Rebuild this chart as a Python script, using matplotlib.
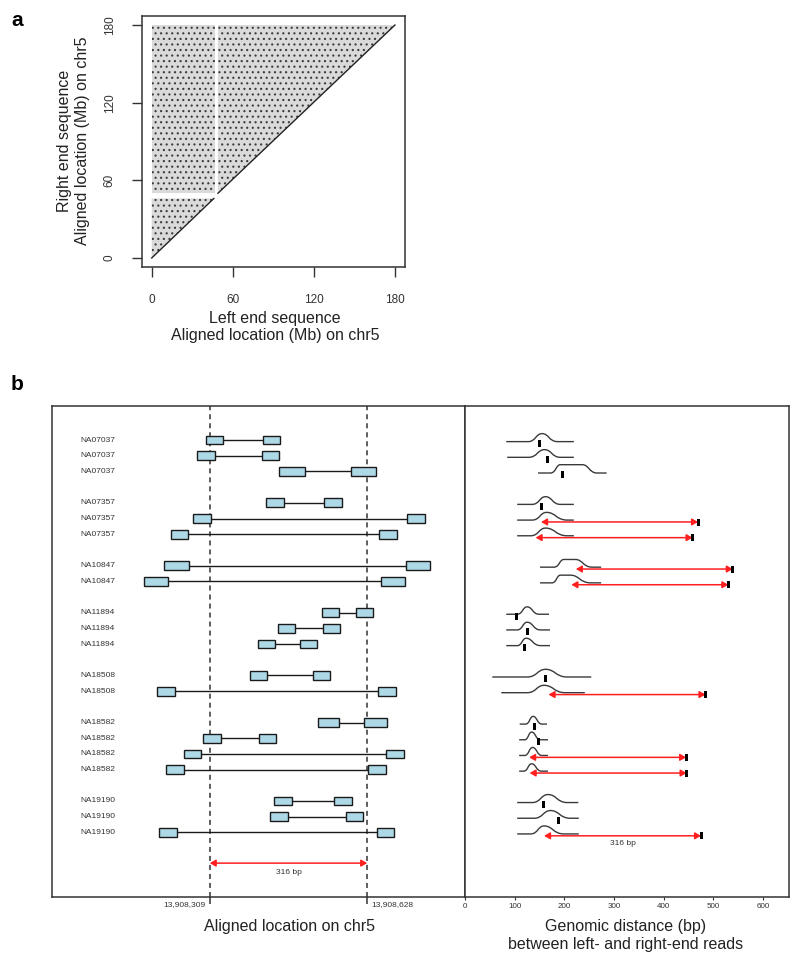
import matplotlib
matplotlib.use("Agg")
import matplotlib.pyplot as plt
from matplotlib.path import Path
from matplotlib.patches import PathPatch
from matplotlib.transforms import blended_transform_factory

plt.rcParams["font.family"] = ["Liberation Sans", "DejaVu Sans"]
plt.rcParams["hatch.linewidth"] = 0.8

# ─────────────────────────────────────────────
# Panel a : outline of the read-pair cloud (Mb on chr5)
# ─────────────────────────────────────────────
UPPER_LEFT_X = [0, 46.5, 46.5, 0]
UPPER_LEFT_Y = [50, 50, 180, 180]
LOWER_LEFT_X = [0, 46, 0]
LOWER_LEFT_Y = [0, 46, 46]
RIGHT_X = [49, 180, 49]
RIGHT_Y = [50, 180, 180]
A_TICKS = [0, 60, 120, 180]

# ─────────────────────────────────────────────
# Panel b : read pairs around the deletion
# ─────────────────────────────────────────────
LEFT_BREAK = 13908309
RIGHT_BREAK = 13908628
DELETION_BP = 316

SAMPLES = (["NA07037"] * 3 + ["NA07357"] * 3 + ["NA10847"] * 2 + ["NA11894"] * 3
           + ["NA18508"] * 2 + ["NA18582"] * 4 + ["NA19190"] * 3)
ROWS = [0, 1, 2, 4, 5, 6, 8, 9, 11, 12, 13, 15, 16, 18, 19, 20, 21, 23, 24, 25]

LEFT_READ_START = [13908301, 13908284, 13908449, 13908424, 13908275, 13908230,
                   13908217, 13908175, 13908536, 13908447, 13908407, 13908391,
                   13908202, 13908528, 13908295, 13908257, 13908221, 13908439,
                   13908432, 13908207]
LEFT_READ_END = [13908336, 13908320, 13908502, 13908460, 13908311, 13908266,
                 13908268, 13908225, 13908570, 13908482, 13908441, 13908426,
                 13908239, 13908571, 13908331, 13908292, 13908256, 13908475,
                 13908468, 13908242]
RIGHT_READ_START = [13908417, 13908415, 13908596, 13908541, 13908708, 13908652,
                    13908706, 13908656, 13908606, 13908539, 13908492, 13908518,
                    13908650, 13908621, 13908409, 13908667, 13908630, 13908561,
                    13908584, 13908647]
RIGHT_READ_END = [13908451, 13908450, 13908646, 13908577, 13908744, 13908688,
                  13908756, 13908705, 13908640, 13908573, 13908526, 13908553,
                  13908686, 13908668, 13908443, 13908702, 13908667, 13908597,
                  13908620, 13908682]
HAS_DELETION = [False, False, False, False, True, True, True, True, False, False,
                False, False, True, False, False, True, True, False, False, True]

# insert-size distribution per library (bp)
CURVE_START = [83, 85, 147, 105, 105, 105, 151, 151, 83, 83, 83, 55, 73, 110, 109, 109, 109, 105, 105, 105]
CURVE_RISE = [127, 128, 172, 135, 135, 132, 179, 175, 105, 105, 105, 125, 125, 122, 120, 120, 118, 135, 139, 132]
CURVE_PEAK_LO = [155, 160, 192, 162, 164, 162, 199, 192, 125, 125, 123, 162, 159, 137, 134, 136, 134, 167, 172, 159]
CURVE_PEAK_HI = [155, 160, 236, 162, 164, 162, 222, 212, 125, 125, 123, 162, 159, 137, 134, 136, 134, 167, 172, 159]
CURVE_FALL = [186, 192, 266, 192, 206, 206, 256, 253, 149, 152, 152, 206, 202, 155, 152, 155, 154, 206, 212, 199]
CURVE_END = [219, 219, 285, 219, 219, 219, 274, 274, 169, 171, 171, 254, 241, 165, 167, 167, 167, 228, 229, 229]
CURVE_HEIGHT = [0.51, 0.49, 0.53, 0.49, 0.49, 0.49, 0.49, 0.49, 0.47, 0.49,
                0.47, 0.49, 0.47, 0.49, 0.49, 0.51, 0.47, 0.51, 0.49, 0.51]

R_TICKS = [0, 100, 200, 300, 400, 500, 600]

W, H = 800, 961
DARK = "#333333"
RED = "#ff1f1f"


def fx(x):
    return x / W


def fy(y):
    return 1 - y / H


def bump_path(x0, x1, p0, p1, x2, x3, base, h):
    # smooth bump drawn with cubic Bezier segments
    top = base - h
    d1 = p0 - x1
    d2 = x2 - p1
    verts = [(x0, base), (x1, base),
             (x1 + 0.55 * d1, base), (p0 - 0.45 * d1, top), (p0, top),
             (p1, top),
             (p1 + 0.45 * d2, top), (x2 - 0.55 * d2, base), (x2, base),
             (x3, base)]
    codes = [Path.MOVETO, Path.LINETO,
             Path.CURVE4, Path.CURVE4, Path.CURVE4,
             Path.LINETO,
             Path.CURVE4, Path.CURVE4, Path.CURVE4,
             Path.LINETO]
    return Path(verts, codes)


fig = plt.figure(figsize=(8, 9.61), dpi=100)

# ─────────────────────────────────────────────
# Panel a
# ─────────────────────────────────────────────
ax_a = fig.add_axes([fx(142), fy(267.3), (404.7 - 142) / W, (267.3 - 15.7) / H])
for xs, ys in [(UPPER_LEFT_X, UPPER_LEFT_Y), (LOWER_LEFT_X, LOWER_LEFT_Y), (RIGHT_X, RIGHT_Y)]:
    ax_a.fill(xs, ys, facecolor="#dadada", edgecolor="#3c3c3c", hatch="...", linewidth=0)
ax_a.plot(LOWER_LEFT_X[:2], LOWER_LEFT_Y[:2], color="#222222", lw=1.0)
ax_a.plot(RIGHT_X[:2], RIGHT_Y[:2], color="#222222", lw=1.0)
ax_a.set_xlim(-7.2, 187.2)
ax_a.set_ylim(-7.2, 187.2)
ax_a.set_xticks(A_TICKS)
ax_a.set_yticks(A_TICKS)
ax_a.tick_params(length=7, width=1, color=DARK, labelsize=8.5, labelcolor=DARK, pad=12)
plt.setp(ax_a.get_yticklabels(), rotation=90, va="center")
for sp in ax_a.spines.values():
    sp.set_linewidth(1.1)
    sp.set_color(DARK)

fig.text(fx(275), fy(318), "Left end sequence", ha="center", va="center", fontsize=11.5, color="#222")
fig.text(fx(275), fy(335), "Aligned location (Mb) on chr5", ha="center", va="center", fontsize=11.5, color="#222")
fig.text(fx(65), fy(141), "Right end sequence", ha="center", va="center", rotation=90, fontsize=11.5, color="#222")
fig.text(fx(83), fy(141), "Aligned location (Mb) on chr5", ha="center", va="center", rotation=90, fontsize=11.5, color="#222")

fig.text(fx(17), fy(21), "a", ha="center", va="center", fontsize=15, fontweight="bold")
fig.text(fx(17), fy(384), "b", ha="center", va="center", fontsize=15, fontweight="bold")

# ─────────────────────────────────────────────
# Panel b, left : read alignments
# ─────────────────────────────────────────────
ax_l = fig.add_axes([fx(51.7), fy(896.7), (465 - 51.7) / W, (896.7 - 406) / H])
ax_r = fig.add_axes([fx(465), fy(896.7), (789 - 465) / W, (896.7 - 406) / H])

for ax in (ax_l, ax_r):
    ax.set_ylim(29.1, -2.17)
    ax.set_yticks([])
    for sp in ax.spines.values():
        sp.set_linewidth(1.1)
        sp.set_color(DARK)

ax_l.set_xlim(LEFT_BREAK - 320, LEFT_BREAK + 517)
for brk in (LEFT_BREAK, RIGHT_BREAK):
    ax_l.axvline(brk, color=DARK, lw=1.1, ls=(0, (3.3, 2.6)), zorder=1)

ax_l.hlines(ROWS, LEFT_READ_END, RIGHT_READ_START, color="#1a1a1a", lw=1.0, zorder=2)
ax_l.barh(ROWS, [e - s for s, e in zip(LEFT_READ_START, LEFT_READ_END)], left=LEFT_READ_START,
          height=0.56, color="#add8e6", edgecolor="#1a1a1a", linewidth=1.0, zorder=3)
ax_l.barh(ROWS, [e - s for s, e in zip(RIGHT_READ_START, RIGHT_READ_END)], left=RIGHT_READ_START,
          height=0.56, color="#add8e6", edgecolor="#1a1a1a", linewidth=1.0, zorder=3)

lab_tr = blended_transform_factory(ax_l.transAxes, ax_l.transData)
for name, r in zip(SAMPLES, ROWS):
    ax_l.text(0.0685, r, name, transform=lab_tr, ha="left", va="center", fontsize=6, color=DARK)

ax_l.annotate("", xy=(LEFT_BREAK, 26.96), xytext=(RIGHT_BREAK, 26.96),
              arrowprops=dict(arrowstyle="<|-|>,head_length=0.35,head_width=0.2",
                              color=RED, lw=1.1, shrinkA=0, shrinkB=0))
ax_l.text((LEFT_BREAK + RIGHT_BREAK) / 2, 27.56, f"{DELETION_BP} bp", ha="center", va="center",
          fontsize=6, color=DARK)

ax_l.set_xticks([LEFT_BREAK, RIGHT_BREAK])
ax_l.set_xticklabels([])
ax_l.tick_params(axis="x", length=5, width=1.1, color=DARK)
tick_tr = blended_transform_factory(ax_l.transData, ax_l.transAxes)
ax_l.text(LEFT_BREAK - 8, -0.015, f"{LEFT_BREAK:,}", transform=tick_tr, ha="right", va="center",
          fontsize=6, color=DARK)
ax_l.text(RIGHT_BREAK + 8, -0.015, f"{RIGHT_BREAK:,}", transform=tick_tr, ha="left", va="center",
          fontsize=6, color=DARK)

fig.text(fx(289), fy(926), "Aligned location on chr5", ha="center", va="center", fontsize=11.5, color="#222")

# ─────────────────────────────────────────────
# Panel b, right : insert-size distributions and observed distances
# ─────────────────────────────────────────────
ax_r.set_xlim(0, 652)
for i, r in enumerate(ROWS):
    path = bump_path(CURVE_START[i], CURVE_RISE[i], CURVE_PEAK_LO[i], CURVE_PEAK_HI[i],
                     CURVE_FALL[i], CURVE_END[i], r + 0.1, CURVE_HEIGHT[i])
    ax_r.add_patch(PathPatch(path, fill=False, edgecolor="#3a3a3a", lw=1.0, zorder=2))

distance = [e - s for s, e in zip(LEFT_READ_START, RIGHT_READ_END)]
ax_r.bar(distance, 0.45, bottom=ROWS, width=6, color="black", zorder=4)

for i, r in enumerate(ROWS):
    if HAS_DELETION[i]:
        ax_r.annotate("", xy=(distance[i] - DELETION_BP, r + 0.22), xytext=(distance[i], r + 0.22),
                      arrowprops=dict(arrowstyle="<|-|>,head_length=0.35,head_width=0.2",
                                      color=RED, lw=1.1, shrinkA=0, shrinkB=0), zorder=3)
ax_r.text(distance[-1] - DELETION_BP / 2, 25.69, f"{DELETION_BP} bp", ha="center", va="center",
          fontsize=6, color=DARK)

ax_r.set_xticks(R_TICKS)
ax_r.tick_params(axis="x", length=2.5, width=0.8, color=DARK, labelsize=5.8, labelcolor=DARK, pad=2)

fig.text(fx(626), fy(926), "Genomic distance (bp)", ha="center", va="center", fontsize=11.5, color="#222")
fig.text(fx(626), fy(944), "between left- and right-end reads", ha="center", va="center", fontsize=11.5, color="#222")

fig.savefig("out.png", dpi=100)
